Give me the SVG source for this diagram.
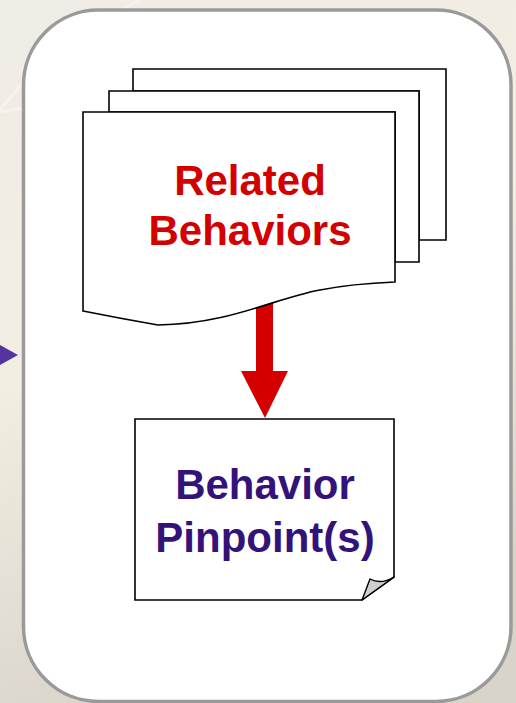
<svg xmlns="http://www.w3.org/2000/svg" width="516" height="703" viewBox="0 0 516 703">
  <defs>
    <linearGradient id="bg" x1="0" y1="0" x2="0.3" y2="1">
      <stop offset="0" stop-color="#efece6"/>
      <stop offset="0.5" stop-color="#f3eee2"/>
      <stop offset="1" stop-color="#d8d4ca"/>
    </linearGradient>
    <style>
      .panel { fill: #ffffff; stroke: #9a9a9a; stroke-width: 3.5; }
      .sheet { fill: #ffffff; stroke: #000000; stroke-width: 1.6; stroke-linejoin: miter; }
      .fold { fill: #cfcfcf; stroke: #000000; stroke-width: 1.4; stroke-linejoin: round; }
      .label { font-family: "Liberation Sans", Arial, sans-serif; font-weight: bold; font-size: 42px; text-anchor: middle; }
      .red { fill: #d40000; }
      .purple { fill: #33127a; }
    </style>
  </defs>

  <!-- backdrop -->
  <rect x="0" y="0" width="516" height="703" fill="url(#bg)"/>
  <g fill="none" stroke="#ffffff" stroke-opacity="0.35" stroke-width="3">
    <path d="M0,110 C40,60 80,30 140,0"/>
    <path d="M0,112 C60,100 140,95 220,60"/>
  </g>

  <!-- incoming pointer at left edge -->
  <polygon points="0,345 18,355 0,365" fill="#5533a0"/>

  <!-- container panel -->
  <rect class="panel" x="23.5" y="10" width="487.5" height="691.5" rx="75" ry="75"/>

  <!-- connectors -->
  <g id="connectors">
    <rect x="256" y="303" width="17" height="69" fill="#d40000"/>
    <polygon points="241,371 288,371 265,418" fill="#d40000"/>
  </g>

  <!-- stacked documents -->
  <g id="related-behaviors">
    <path class="sheet" d="M133,69 H446 V240 H419 V91 H133 Z"/>
    <path class="sheet" d="M109,91 H419 V262 H395 V112 H109 Z"/>
    <path class="sheet" d="M83,112 H395 V282 C370,283 345,285 320,290 C275,298 230,324 158,325 C135,321 108,316 83,311 Z"/>
    <text class="label red" x="250" y="195">Related</text>
    <text class="label red" x="250" y="245">Behaviors</text>
  </g>

  <!-- note with folded corner -->
  <g id="behavior-pinpoints">
    <path class="sheet" d="M135,419 H394 V577 L362,600 H135 Z"/>
    <path class="fold" d="M362,600 L370,579 Q381,585 394,577 Z"/>
    <text class="label purple" x="265" y="499">Behavior</text>
    <text class="label purple" x="265" y="552">Pinpoint(s)</text>
  </g>
</svg>
